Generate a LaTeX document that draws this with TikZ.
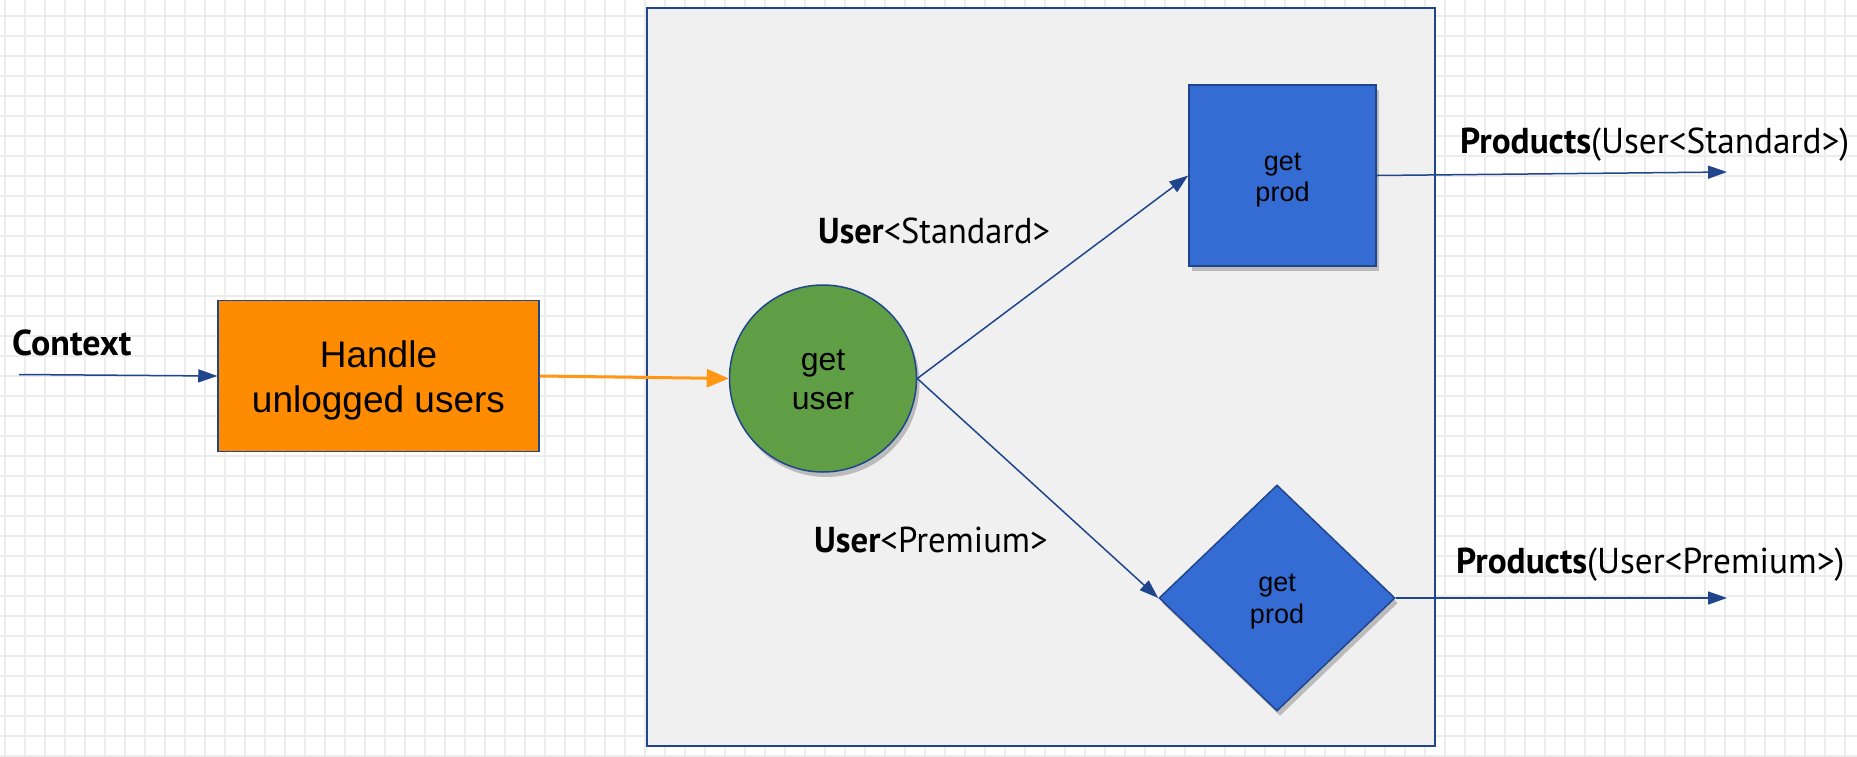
\documentclass[tikz,border=0pt]{standalone}
\usepackage{fontspec}
\usepackage{graphicx}
\setmainfont{Liberation Sans}
\newfontfamily\lblfont{PT Sans}
\usetikzlibrary{arrows.meta,shapes.geometric,shadows}
\definecolor{navy}{RGB}{31,70,140}
\definecolor{orangeF}{RGB}{255,140,0}
\definecolor{orangeA}{RGB}{255,150,20}
\definecolor{greenF}{RGB}{96,158,70}
\definecolor{blueF}{RGB}{52,108,211}
\definecolor{panelF}{RGB}{240,240,240}
\definecolor{gridc}{RGB}{236,236,236}
\newcommand{\lbl}[2]{\scalebox{#1}[1]{\lblfont\fontsize{36}{40}\selectfont #2}}
\tikzset{
  shapebox/.style={draw=navy, line width=1.5pt, inner sep=0pt},
  shad/.style={drop shadow={shadow xshift=3pt, shadow yshift=-5pt, opacity=0.22, fill=black}},
  conn/.style={draw=navy, line width=1.5pt, -{Triangle[length=19pt,width=13pt]}},
  oconn/.style={draw=orangeA, line width=3pt, -{Triangle[length=22pt,width=18pt]}},
  lab/.style={anchor=base west, inner sep=0pt, text=black},
  intext/.style={align=center, inner sep=0pt, text=black},
}
\begin{document}
\begin{tikzpicture}[x=1pt,y=-1pt]
\useasboundingbox (0,0) rectangle (1857,756);
\fill[white] (0,0) rectangle (1857,756);
\foreach \x in {5,25,...,1857} \draw[gridc,line width=1.5pt] (\x,0) -- (\x,756);
\foreach \y in {16,36,...,756} \draw[gridc,line width=1.5pt] (0,\y) -- (1857,\y);

\node[shapebox, fill=panelF, minimum width=788pt, minimum height=738pt] (panel) at (1041,377) {};

\node[shapebox, fill=orangeF, minimum width=321pt, minimum height=151pt] (handle) at (378.5,376) {};
\node[intext, font=\fontsize{37}{45}\selectfont] (handletxt) at (378.5,380) {Handle\\unlogged users};

\node[shapebox, circle, fill=greenF, minimum size=187pt, shad] (getuser) at (823,378.5) {};
\node[intext, font=\fontsize{32}{39}\selectfont] (getusertxt) at (823,380) {get\\user};

\node[shapebox, fill=blueF, minimum width=187pt, minimum height=181pt, shad] (prodstd) at (1282.5,175.5) {};
\node[intext, font=\fontsize{27}{31}\selectfont] (prodstdtxt) at (1282.5,180) {get\\prod};

\node[shapebox, diamond, fill=blueF, minimum width=236pt, minimum height=226pt, shad] (prodprem) at (1277,598) {};
\node[intext, font=\fontsize{27}{32}\selectfont] (prodpremtxt) at (1277,602) {get\\prod};

\coordinate (ctxin) at (19,374.5);
\coordinate (outstd) at (1727,172);
\coordinate (outprem) at (1727,598);

\draw[conn] (ctxin) -- (handle.west);
\draw[oconn] (handle.east) -- (getuser.west);
\draw[conn] (getuser.east) -- (prodstd.west);
\draw[conn] (getuser.east) -- (prodprem.west);
\draw[conn] (prodstd.east) -- (outstd);
\draw[conn] (prodprem.east) -- (outprem);

\node[lab] (lctx) at (12,355) {\lbl{1}{\bfseries Context}};
\node[lab] (lstd) at (818,243) {\lbl{0.955}{\textbf{User}<Standard>}};
\node[lab] (lprem) at (814,552) {\lbl{0.965}{\textbf{User}<Premium>}};
\node[lab] (lpstd) at (1460,153) {\lbl{0.98}{\textbf{Products}(User<Standard>)}};
\node[lab] (lpprem) at (1456,573) {\lbl{0.98}{\textbf{Products}(User<Premium>)}};
\end{tikzpicture}
\end{document}
